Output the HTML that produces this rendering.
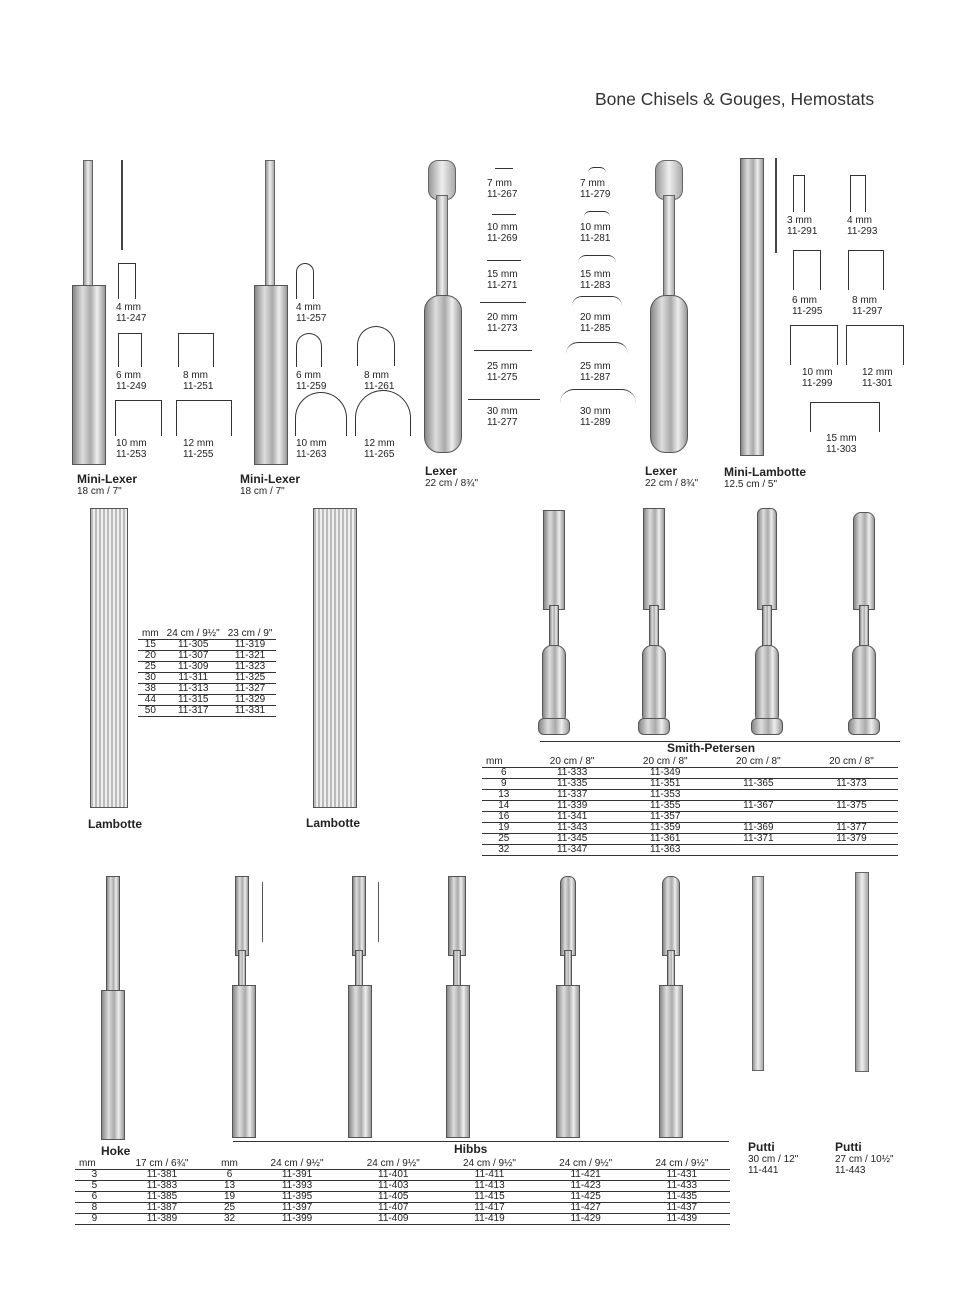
<!DOCTYPE html>
<html><head><meta charset="utf-8"><style>
body{margin:0;width:964px;height:1290px;background:#fff;position:relative;overflow:hidden;font-family:"Liberation Sans",sans-serif;color:#222}
.a{position:absolute}
.t{position:absolute;font-size:10px;line-height:11px}
.b{position:absolute;font-size:12px;font-weight:bold;line-height:13px}
.h{position:absolute;background:linear-gradient(90deg,#888,#ddd 30%,#aaa 55%,#eee 75%,#999);border:1px solid #555;box-sizing:border-box}
.s{position:absolute;background:linear-gradient(90deg,#999,#eee,#aaa);border:1px solid #666;box-sizing:border-box}
.sh{position:absolute;border:1px solid #333;border-bottom:none;box-sizing:border-box}
table{position:absolute;border-collapse:collapse;font-size:10px;line-height:10px}
td{padding:0 4px;text-align:center;border-bottom:1px solid #333}
</style></head><body>
<div class="a" style="left:595px;top:89px;font-size:17.5px;color:#333">Bone Chisels &amp; Gouges, Hemostats</div>

<!-- Mini-Lexer 1 -->
<div class="s" style="left:83px;top:160px;width:10px;height:130px"></div>
<div class="h" style="left:72px;top:285px;width:34px;height:180px"></div>
<div class="a" style="left:121px;top:160px;width:2px;height:90px;background:#444"></div>
<div class="sh" style="left:118px;top:263px;width:18px;height:36px"></div><div class="t" style="left:116px;top:302px">4 mm<br>11-247</div>
<div class="sh" style="left:118px;top:333px;width:24px;height:34px"></div><div class="t" style="left:116px;top:370px">6 mm<br>11-249</div>
<div class="sh" style="left:178px;top:333px;width:36px;height:34px"></div><div class="t" style="left:183px;top:370px">8 mm<br>11-251</div>
<div class="sh" style="left:115px;top:400px;width:47px;height:36px"></div><div class="t" style="left:116px;top:438px">10 mm<br>11-253</div>
<div class="sh" style="left:176px;top:400px;width:56px;height:36px"></div><div class="t" style="left:183px;top:438px">12 mm<br>11-255</div>
<div class="b" style="left:77px;top:473px">Mini-Lexer</div><div class="t" style="left:77px;top:486px">18 cm / 7"</div>

<!-- Mini-Lexer 2 -->
<div class="s" style="left:265px;top:160px;width:10px;height:130px"></div>
<div class="h" style="left:254px;top:285px;width:34px;height:180px"></div>
<div class="sh" style="left:296px;top:263px;width:18px;height:36px;border-radius:9px 9px 0 0"></div><div class="t" style="left:296px;top:302px">4 mm<br>11-257</div>
<div class="sh" style="left:296px;top:333px;width:26px;height:34px;border-radius:13px 13px 0 0"></div><div class="t" style="left:296px;top:370px">6 mm<br>11-259</div>
<div class="sh" style="left:357px;top:326px;width:38px;height:40px;border-radius:19px 19px 0 0"></div><div class="t" style="left:364px;top:370px">8 mm<br>11-261</div>
<div class="sh" style="left:295px;top:392px;width:52px;height:44px;border-radius:26px 26px 0 0"></div><div class="t" style="left:296px;top:438px">10 mm<br>11-263</div>
<div class="sh" style="left:355px;top:390px;width:56px;height:46px;border-radius:28px 28px 0 0"></div><div class="t" style="left:364px;top:438px">12 mm<br>11-265</div>
<div class="b" style="left:240px;top:473px">Mini-Lexer</div><div class="t" style="left:240px;top:486px">18 cm / 7"</div>

<!-- Lexer 1 -->
<div class="s" style="left:428px;top:160px;width:28px;height:40px;border-radius:10px"></div>
<div class="s" style="left:436px;top:195px;width:12px;height:110px"></div>
<div class="h" style="left:424px;top:295px;width:38px;height:158px;border-radius:16px"></div>
<div class="b" style="left:425px;top:465px">Lexer</div><div class="t" style="left:425px;top:478px">22 cm / 8¾"</div>
<div class="t" style="left:487px;top:178px">7 mm<br>11-267</div>
<div class="t" style="left:487px;top:222px">10 mm<br>11-269</div>
<div class="t" style="left:487px;top:269px">15 mm<br>11-271</div>
<div class="t" style="left:487px;top:312px">20 mm<br>11-273</div>
<div class="t" style="left:487px;top:361px">25 mm<br>11-275</div>
<div class="t" style="left:487px;top:406px">30 mm<br>11-277</div>
<div class="a" style="left:495px;top:168px;width:18px;height:1px;background:#333"></div>
<div class="a" style="left:492px;top:214px;width:24px;height:1px;background:#333"></div>
<div class="a" style="left:487px;top:260px;width:34px;height:1px;background:#333"></div>
<div class="a" style="left:480px;top:302px;width:46px;height:1px;background:#333"></div>
<div class="a" style="left:474px;top:350px;width:58px;height:1px;background:#333"></div>
<div class="a" style="left:468px;top:399px;width:72px;height:1px;background:#333"></div>
<div class="t" style="left:580px;top:178px">7 mm<br>11-279</div>
<div class="t" style="left:580px;top:222px">10 mm<br>11-281</div>
<div class="t" style="left:580px;top:269px">15 mm<br>11-283</div>
<div class="t" style="left:580px;top:312px">20 mm<br>11-285</div>
<div class="t" style="left:580px;top:361px">25 mm<br>11-287</div>
<div class="t" style="left:580px;top:406px">30 mm<br>11-289</div>
<div class="sh" style="left:588px;top:167px;width:18px;height:6px;border-radius:9px 9px 0 0;border-left:none;border-right:none"></div>
<div class="sh" style="left:584px;top:211px;width:26px;height:6px;border-radius:13px 13px 0 0;border-left:none;border-right:none"></div>
<div class="sh" style="left:578px;top:255px;width:38px;height:8px;border-radius:19px 19px 0 0;border-left:none;border-right:none"></div>
<div class="sh" style="left:572px;top:296px;width:50px;height:10px;border-radius:25px 25px 0 0;border-left:none;border-right:none"></div>
<div class="sh" style="left:566px;top:342px;width:62px;height:12px;border-radius:31px 31px 0 0;border-left:none;border-right:none"></div>
<div class="sh" style="left:560px;top:389px;width:76px;height:14px;border-radius:38px 38px 0 0;border-left:none;border-right:none"></div>
<!-- Lexer 2 -->
<div class="s" style="left:655px;top:160px;width:28px;height:40px;border-radius:10px"></div>
<div class="s" style="left:663px;top:195px;width:12px;height:110px"></div>
<div class="h" style="left:650px;top:295px;width:38px;height:158px;border-radius:16px"></div>
<div class="b" style="left:645px;top:465px">Lexer</div><div class="t" style="left:645px;top:478px">22 cm / 8¾"</div>
<!-- Mini-Lambotte -->
<div class="h" style="left:740px;top:158px;width:24px;height:298px"></div>
<div class="a" style="left:775px;top:158px;width:2px;height:95px;background:#444"></div>
<div class="b" style="left:724px;top:466px">Mini-Lambotte</div><div class="t" style="left:724px;top:479px">12.5 cm / 5"</div>
<div class="sh" style="left:793px;top:175px;width:12px;height:37px"></div><div class="t" style="left:787px;top:215px">3 mm<br>11-291</div>
<div class="sh" style="left:850px;top:175px;width:16px;height:37px"></div><div class="t" style="left:847px;top:215px">4 mm<br>11-293</div>
<div class="sh" style="left:793px;top:250px;width:28px;height:40px"></div><div class="t" style="left:792px;top:295px">6 mm<br>11-295</div>
<div class="sh" style="left:848px;top:250px;width:36px;height:40px"></div><div class="t" style="left:852px;top:295px">8 mm<br>11-297</div>
<div class="sh" style="left:790px;top:325px;width:48px;height:40px"></div><div class="t" style="left:802px;top:367px">10 mm<br>11-299</div>
<div class="sh" style="left:846px;top:325px;width:58px;height:40px"></div><div class="t" style="left:862px;top:367px">12 mm<br>11-301</div>
<div class="sh" style="left:810px;top:402px;width:70px;height:30px"></div><div class="t" style="left:826px;top:433px">15 mm<br>11-303</div>

<!-- Lambotte -->
<div class="h" style="left:90px;top:508px;width:38px;height:300px;background:repeating-linear-gradient(90deg,#bbb 0 2px,#eee 2px 4px)"></div>
<div class="h" style="left:313px;top:508px;width:44px;height:300px;background:repeating-linear-gradient(90deg,#bbb 0 2px,#eee 2px 4px)"></div>
<div class="b" style="left:88px;top:818px">Lambotte</div><div class="b" style="left:306px;top:817px">Lambotte</div>
<table style="left:138px;top:629px"><tr><td style="text-align:left">mm</td><td>24 cm / 9½"</td><td>23 cm / 9"</td></tr>
<tr><td>15</td><td>11-305</td><td>11-319</td></tr><tr><td>20</td><td>11-307</td><td>11-321</td></tr><tr><td>25</td><td>11-309</td><td>11-323</td></tr><tr><td>30</td><td>11-311</td><td>11-325</td></tr><tr><td>38</td><td>11-313</td><td>11-327</td></tr><tr><td>44</td><td>11-315</td><td>11-329</td></tr><tr><td>50</td><td>11-317</td><td>11-331</td></tr></table>

<!-- Smith-Petersen -->
<div class="h" style="left:543px;top:510px;width:22px;height:100px"></div>
<div class="h" style="left:549px;top:605px;width:10px;height:45px"></div>
<div class="h" style="left:542px;top:645px;width:24px;height:80px;border-radius:10px"></div>
<div class="h" style="left:538px;top:718px;width:32px;height:17px;border-radius:6px"></div>
<div class="h" style="left:643px;top:508px;width:22px;height:102px"></div>
<div class="h" style="left:649px;top:605px;width:10px;height:45px"></div>
<div class="h" style="left:642px;top:645px;width:24px;height:80px;border-radius:10px"></div>
<div class="h" style="left:638px;top:718px;width:32px;height:17px;border-radius:6px"></div>
<div class="h" style="left:757px;top:508px;width:20px;height:102px;border-radius:6px 6px 0 0"></div>
<div class="h" style="left:762px;top:605px;width:10px;height:45px"></div>
<div class="h" style="left:755px;top:645px;width:24px;height:80px;border-radius:10px"></div>
<div class="h" style="left:751px;top:718px;width:32px;height:17px;border-radius:6px"></div>
<div class="h" style="left:853px;top:512px;width:22px;height:98px;border-radius:8px 8px 0 0"></div>
<div class="h" style="left:859px;top:605px;width:10px;height:45px"></div>
<div class="h" style="left:852px;top:645px;width:24px;height:80px;border-radius:10px"></div>
<div class="h" style="left:848px;top:718px;width:32px;height:17px;border-radius:6px"></div>
<div class="a" style="left:540px;top:741px;width:360px;height:1px;background:#333"></div>
<div class="b" style="left:667px;top:742px">Smith-Petersen</div>
<table style="left:482px;top:757px;width:416px"><tr><td style="text-align:left">mm</td><td>20 cm / 8"</td><td>20 cm / 8"</td><td>20 cm / 8"</td><td>20 cm / 8"</td></tr>
<tr><td>6</td><td>11-333</td><td>11-349</td><td></td><td></td></tr><tr><td>9</td><td>11-335</td><td>11-351</td><td>11-365</td><td>11-373</td></tr><tr><td>13</td><td>11-337</td><td>11-353</td><td></td><td></td></tr><tr><td>14</td><td>11-339</td><td>11-355</td><td>11-367</td><td>11-375</td></tr><tr><td>16</td><td>11-341</td><td>11-357</td><td></td><td></td></tr><tr><td>19</td><td>11-343</td><td>11-359</td><td>11-369</td><td>11-377</td></tr><tr><td>25</td><td>11-345</td><td>11-361</td><td>11-371</td><td>11-379</td></tr><tr><td>32</td><td>11-347</td><td>11-363</td><td></td><td></td></tr></table>

<!-- Hoke / Hibbs -->
<div class="h" style="left:106px;top:876px;width:14px;height:130px"></div>
<div class="h" style="left:101px;top:990px;width:24px;height:150px"></div>
<div class="h" style="left:235px;top:876px;width:14px;height:80px"></div>
<div class="h" style="left:238px;top:950px;width:8px;height:45px"></div>
<div class="h" style="left:232px;top:985px;width:24px;height:153px"></div>
<div class="a" style="left:262px;top:882px;width:1px;height:60px;background:#555"></div>
<div class="h" style="left:352px;top:876px;width:14px;height:80px"></div>
<div class="h" style="left:355px;top:950px;width:8px;height:45px"></div>
<div class="h" style="left:348px;top:985px;width:24px;height:153px"></div>
<div class="a" style="left:378px;top:882px;width:1px;height:60px;background:#555"></div>
<div class="h" style="left:448px;top:876px;width:18px;height:80px"></div>
<div class="h" style="left:453px;top:950px;width:8px;height:45px"></div>
<div class="h" style="left:446px;top:985px;width:24px;height:153px"></div>
<div class="h" style="left:560px;top:876px;width:16px;height:80px;border-radius:7px 7px 0 0"></div>
<div class="h" style="left:564px;top:950px;width:8px;height:45px"></div>
<div class="h" style="left:556px;top:985px;width:24px;height:153px"></div>
<div class="h" style="left:662px;top:876px;width:18px;height:80px;border-radius:8px 8px 0 0"></div>
<div class="h" style="left:667px;top:950px;width:8px;height:45px"></div>
<div class="h" style="left:659px;top:985px;width:24px;height:153px"></div>
<div class="s" style="left:752px;top:876px;width:12px;height:195px"></div>
<div class="s" style="left:855px;top:872px;width:14px;height:200px"></div>
<div class="a" style="left:233px;top:1141px;width:496px;height:1px;background:#333"></div>
<div class="b" style="left:101px;top:1145px">Hoke</div><div class="b" style="left:454px;top:1143px">Hibbs</div>
<div class="b" style="left:748px;top:1141px">Putti</div><div class="t" style="left:748px;top:1154px">30 cm / 12"<br>11-441</div>
<div class="b" style="left:835px;top:1141px">Putti</div><div class="t" style="left:835px;top:1154px">27 cm / 10½"<br>11-443</div>
<table style="left:75px;top:1159px;width:655px"><tr><td style="text-align:left">mm</td><td>17 cm / 6¾"</td><td>mm</td><td>24 cm / 9½"</td><td>24 cm / 9½"</td><td>24 cm / 9½"</td><td>24 cm / 9½"</td><td>24 cm / 9½"</td></tr>
<tr><td>3</td><td>11-381</td><td>6</td><td>11-391</td><td>11-401</td><td>11-411</td><td>11-421</td><td>11-431</td></tr>
<tr><td>5</td><td>11-383</td><td>13</td><td>11-393</td><td>11-403</td><td>11-413</td><td>11-423</td><td>11-433</td></tr>
<tr><td>6</td><td>11-385</td><td>19</td><td>11-395</td><td>11-405</td><td>11-415</td><td>11-425</td><td>11-435</td></tr>
<tr><td>8</td><td>11-387</td><td>25</td><td>11-397</td><td>11-407</td><td>11-417</td><td>11-427</td><td>11-437</td></tr>
<tr><td>9</td><td>11-389</td><td>32</td><td>11-399</td><td>11-409</td><td>11-419</td><td>11-429</td><td>11-439</td></tr></table>
</body></html>
